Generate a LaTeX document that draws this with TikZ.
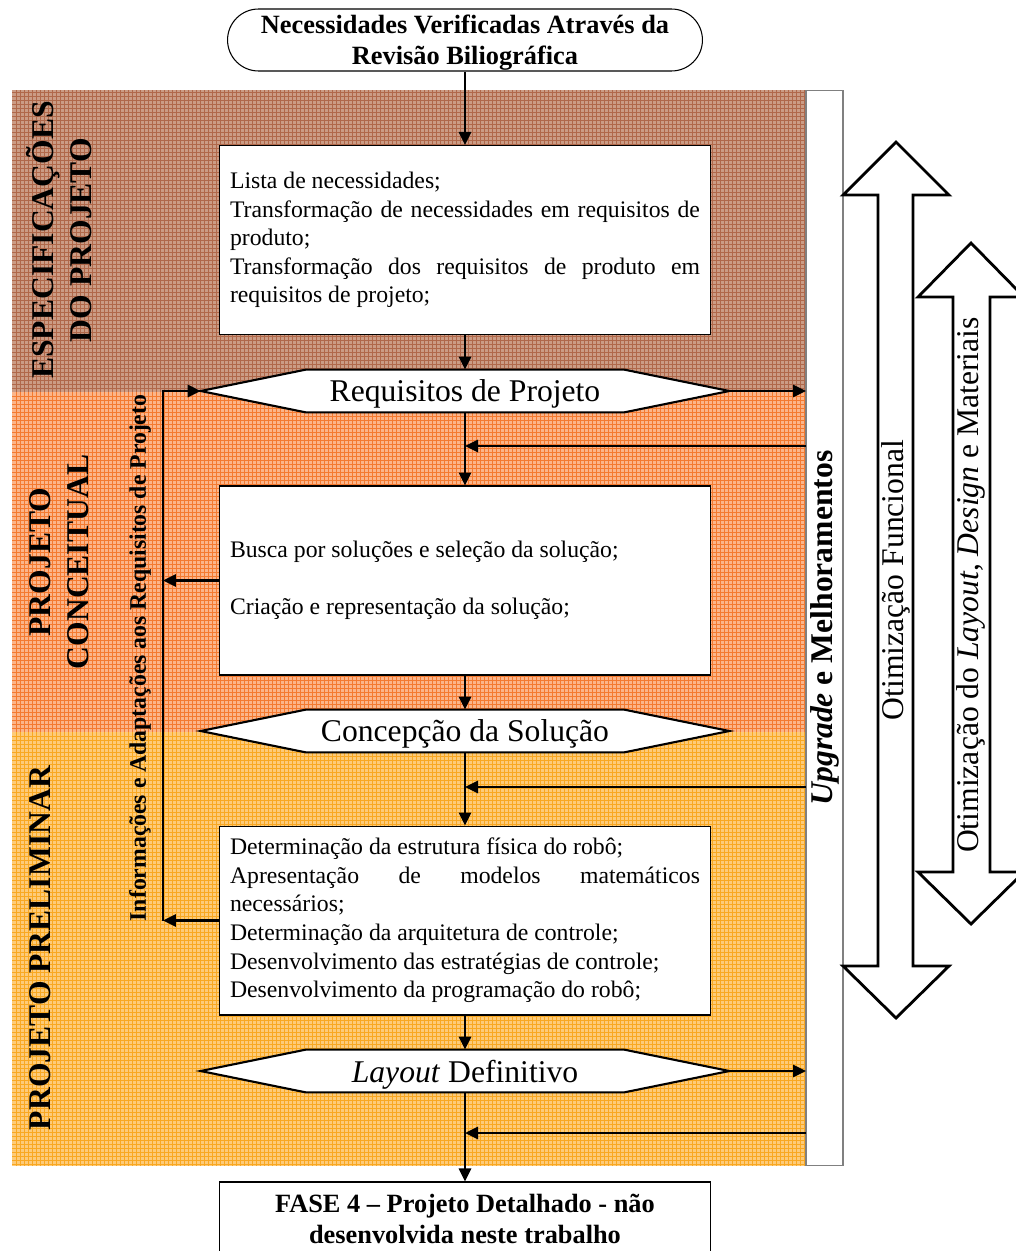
\documentclass[tikz,border=0pt]{standalone}
\usepackage{fontspec}
\setmainfont{Liberation Serif}
\usetikzlibrary{arrows.meta, backgrounds}

\definecolor{specbase}{HTML}{CB9C85}
\definecolor{specline}{HTML}{B0684A}
\definecolor{concbase}{HTML}{FBB58A}
\definecolor{concline}{HTML}{F47A30}
\definecolor{prelbase}{HTML}{FDCB7A}
\definecolor{prelline}{HTML}{F9A822}

\tikzstyle{arrow}=[line width=1.6pt, -{Triangle[length=0.26cm, width=0.24cm]}]
\tikzstyle{stage}=[draw, fill=white, line width=0.6pt, text width=9.4cm, inner xsep=0.22cm, minimum height=3.78cm, align=justify, font=\fontsize{13.5}{16.3}\selectfont, execute at begin node={\hyphenpenalty=10000 \exhyphenpenalty=10000 \tolerance=9999 \emergencystretch=2em\relax}]
\tikzstyle{terminal}=[draw, fill=white, line width=0.6pt, align=center, inner sep=0pt, text depth=0pt, font=\fontsize{15}{17.6}\selectfont\bfseries]
\tikzstyle{milestone}=[minimum width=10.56cm, minimum height=0.84cm, inner sep=0pt, text depth=0pt, font=\fontsize{18}{21}\selectfont]
\tikzstyle{phase}=[rotate=90, align=center, font=\fontsize{18}{21.6}\selectfont\bfseries]
\tikzstyle{hexline}=[draw, fill=white, line width=1.2pt]
\tikzstyle{bigarrow}=[draw, fill=white, line width=1.6pt]

\newcommand{\hexframe}[1]{%
  \begin{scope}[on background layer]
    \draw[hexline] (#1.west) -- ([xshift=2.1cm]#1.north west) -- ([xshift=-2.1cm]#1.north east) -- (#1.east) -- ([xshift=-2.1cm]#1.south east) -- ([xshift=2.1cm]#1.south west) -- cycle;
  \end{scope}}

\begin{document}
\begin{tikzpicture}[x=0.02cm, y=-0.02cm]
  \useasboundingbox (0,0) rectangle (1015,1251);

  % phase backgrounds
  \begin{scope}[on background layer]
    \fill[specbase] (12,90) rectangle (806,392);
    \draw[specline, line width=0.28pt, step=0.08cm] (12,392) grid (806,90);
    \fill[concbase] (12,392) rectangle (806,732);
    \draw[concline, line width=0.28pt, step=0.08cm] (12,732) grid (806,392);
    \fill[prelbase] (12,732) rectangle (806,1166);
    \draw[prelline, line width=0.28pt, step=0.08cm] (12,1166) grid (806,732);
  \end{scope}

  \node[phase] (spec) at (59, 240) {ESPECIFICAÇÕES\\DO PROJETO};
  \node[phase] (concept) at (59, 562) {PROJETO\\CONCEITUAL};
  \node[phase] (prelim) at (40, 948) {PROJETO PRELIMINAR};

  \node[terminal, minimum width=9.5cm, minimum height=1.24cm, rounded corners=0.62cm] (needs) at (465, 40) {Necessidades Verificadas Através da\\Revisão Biliográfica};

  \node[stage] (list) at (465, 240) {Lista de necessidades;\par Transformação de necessidades em requisitos de produto;\par Transformação dos requisitos de produto em requisitos de projeto;};
  \node[milestone] (req) at (465, 391) {Requisitos de Projeto};
  \hexframe{req}
  \node[stage] (search) at (465, 580.5) {Busca por soluções e seleção da solução;\par\mbox{}\par Criação e representação da solução;};
  \node[milestone] (conc) at (465, 731) {Concepção da Solução};
  \hexframe{conc}
  \node[stage] (struct) at (465, 920.5) {Determinação da estrutura física do robô;\par Apresentação de modelos matemáticos necessários;\par Determinação da arquitetura de controle;\par Desenvolvimento das estratégias de controle;\par Desenvolvimento da programação do robô;};
  \node[milestone] (layout) at (465, 1071) {\textit{Layout} Definitivo};
  \hexframe{layout}
  \node[terminal, minimum width=9.84cm, minimum height=1.46cm] (fase) at (465, 1218.5) {FASE 4 – Projeto Detalhado - não\\desenvolvida neste trabalho};

  \node[rotate=90, font=\fontsize{13.5}{16}\selectfont\bfseries] (info) at (140, 658) {Informações e Adaptações aos Requisitos de Projeto};

  \node[draw=gray, fill=white, line width=0.6pt, rotate=90, minimum width=21.52cm, minimum height=0.74cm, inner sep=0pt, font=\fontsize{18}{21}\selectfont\bfseries] (upg) at (824.5, 628) {\textit{Upgrade} e Melhoramentos};

  % optimisation arrows
  \draw[bigarrow] (896,142) -- (949,195) -- (913,195) -- (913,966) -- (949,966) -- (896,1018) -- (843,966) -- (878,966) -- (878,195) -- (843,195) -- cycle;
  \draw[bigarrow] (971,243) -- (1024,297) -- (990,297) -- (990,872) -- (1024,872) -- (971,924) -- (918,872) -- (953,872) -- (953,297) -- (918,297) -- cycle;
  \node[rotate=90, font=\fontsize{18}{21}\selectfont] (func) at (896, 580) {Otimização Funcional};
  \node[rotate=90, font=\fontsize{18}{21}\selectfont] (mat) at (971, 585) {Otimização do \textit{Layout}, \textit{Design} e Materiais};

  \coordinate (edge) at (806, 0);
  \coordinate (loop) at (163, 0);
  \coordinate (fb1) at (806, 446);
  \coordinate (fb2) at (806, 787);
  \coordinate (fb3) at (806, 1133);

  \draw[arrow] (needs) -- (list);
  \draw[arrow] (list) -- (req);
  \draw[arrow] (req) -- (search);
  \draw[arrow] (search) -- (conc);
  \draw[arrow] (conc) -- (struct);
  \draw[arrow] (struct) -- (layout);
  \draw[arrow] (layout) -- (fase);

  \draw[arrow] (req.east) -- (req.east -| edge);
  \draw[arrow] (layout.east) -- (layout.east -| edge);
  \draw[arrow] (fb1) -- (fb1 -| req);
  \draw[arrow] (fb2) -- (fb2 -| conc);
  \draw[arrow] (fb3) -- (fb3 -| layout);

  \draw[arrow] (search.west) -- (search.west -| loop);
  \draw[arrow] (struct.west) -- (struct.west -| loop);
  \draw[arrow] (struct.west -| loop) -- (req.west -| loop) -- (req.west);
\end{tikzpicture}
\end{document}
